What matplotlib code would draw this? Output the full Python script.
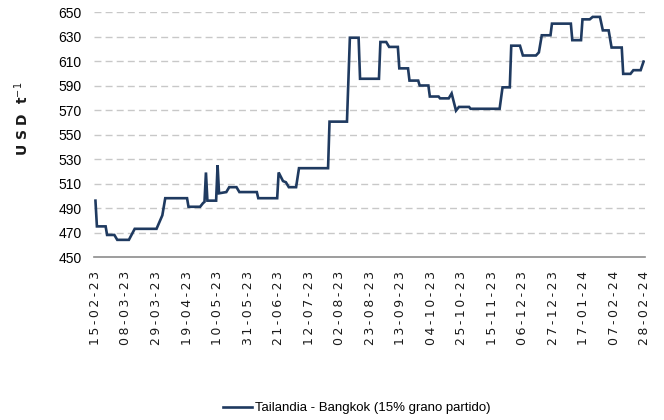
import numpy as np
import matplotlib
matplotlib.use("Agg")
import matplotlib.pyplot as plt

START = np.datetime64("2023-02-15")

# days after 15-02-23 and price (USD/t)
day_offsets = [
    0, 1, 7, 8, 13, 15, 23, 27, 42, 46, 48, 63, 64, 72, 74, 75, 76, 77,
    83, 84, 85, 90, 92, 97, 99, 111, 112, 125, 126, 129, 131, 133, 138,
    140, 160, 161, 173, 175, 181, 182, 195, 196, 200, 202, 208, 209, 215,
    216, 222, 223, 229, 230, 236, 237, 243, 245, 248, 250, 257, 258, 278,
    280, 285, 286, 292, 294, 303, 305, 307, 313, 314, 327, 328, 334, 335,
    340, 342, 347, 349, 353, 355, 362, 363, 368, 370, 375, 377,
]
prices = [
    496, 475, 475, 468, 468, 464, 464, 473, 473, 484, 498, 498, 491, 491, 494, 495, 519, 496,
    496, 525, 502, 503, 507, 507, 503, 503, 498, 498, 519, 512, 511, 507, 507,
    522.5, 522.5, 560.5, 560.5, 629, 629, 595.5, 595.5, 625.5, 625.5, 621.5, 621.5, 604, 604,
    594, 594, 590, 590, 581, 581, 579.5, 579.5, 583.5, 569.5, 572.5, 572.5, 571, 571,
    588.5, 588.5, 622.5, 622.5, 614.5, 614.5, 617, 631, 631, 640.5, 640.5, 627, 627, 644,
    644, 646, 646, 635, 635, 621, 621, 599.5, 599.5, 602.5, 602.5, 609.5,
]
series_label = "Tailandia - Bangkok (15% grano partido)"
y_ticks = list(range(450, 651, 20))

dates = START + np.array(day_offsets).astype("timedelta64[D]")
tick_dates = START + (np.arange(19) * 21).astype("timedelta64[D]")


def spaced(s):
    return "\u2009".join(s)


fig = plt.figure(figsize=(6.64, 4.2), dpi=100)
ax = fig.add_axes([94 / 664, 1 - 257 / 420, 551 / 664, 245 / 420])

for y in y_ticks[1:]:
    ax.axhline(y, color="#c8c8c8", lw=1.0, ls=(0, (5, 3)), zorder=1)

ax.plot(dates, prices, color="#1f3a60", lw=1.9, zorder=3, label=series_label,
        solid_joinstyle="miter")

ax.set_ylim(450, 650)
ax.set_yticks(y_ticks)
ax.set_xlim(START - np.timedelta64(1, "D"), START + np.timedelta64(378, "D"))
ax.set_xticks(tick_dates)
ax.set_xticklabels([spaced(str(d.astype(object).strftime("%d-%m-%y"))) for d in tick_dates],
                   rotation=90, fontsize=9, color="#1a1a1a")
ax.tick_params(axis="x", length=0, pad=10)
ax.tick_params(axis="y", length=0, pad=9, labelsize=10)
for lab in ax.get_yticklabels():
    lab.set_family("Liberation Sans")

for side in ["top", "right", "left"]:
    ax.spines[side].set_visible(False)
ax.spines["bottom"].set_color("#8c8c8c")
ax.spines["bottom"].set_linewidth(1.2)

fig.text(22 / 664, 1 - 119 / 420, "U S D  t$^{-1}$", rotation=90, ha="center",
         va="center", fontsize=10, fontweight="bold", color="#1a1a1a")

fig.legend(loc="center", bbox_to_anchor=(357 / 664, 1 - 408 / 420), frameon=False,
           prop={"family": "Liberation Sans", "size": 9.5}, handlelength=2.2,
           handletextpad=0.2)

fig.savefig("out.png", dpi=100)
